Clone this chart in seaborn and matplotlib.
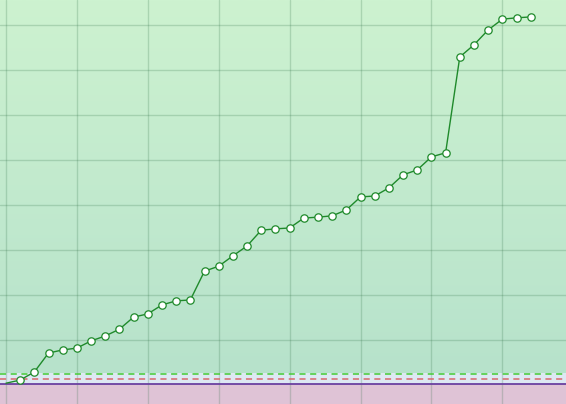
import numpy as np
import pandas as pd
import matplotlib
matplotlib.use("Agg")
import matplotlib.pyplot as plt
import seaborn as sns
from matplotlib.colors import LinearSegmentedColormap

# values (arbitrary units, grid every 10)
steps = list(range(38))
values = [0.4, 1.1, 2.9, 7.1, 7.8, 8.2, 9.8, 10.9, 12.4, 15.1, 15.8, 17.8, 18.7, 18.9,
          25.3, 26.4, 28.7, 30.9, 34.4, 34.7, 34.9, 37.1, 37.3, 37.6, 38.9, 41.8, 42.0,
          43.8, 46.7, 47.8, 50.7, 51.6, 72.9, 75.6, 78.9, 81.3, 81.6, 81.8]
upper_limit = 2.44
lower_limit = 1.33
baseline = 0.33

df = pd.DataFrame({"step": steps, "value": values})

sns.set_theme(style="white")
fig = plt.figure(figsize=(5.66, 4.04), dpi=100)
ax = fig.add_axes([0, 0, 1, 1])

xmin, xmax = -0.42, 39.49
ymin, ymax = -4.22, 85.56
ax.set_xlim(xmin, xmax)
ax.set_ylim(ymin, ymax)

# vertical gradient background
cmap = LinearSegmentedColormap.from_list("bg", ["#b5e1cb", "#cdf2d0"])
grad = np.linspace(0, 1, 256).reshape(-1, 1)
ax.imshow(grad, extent=[xmin, xmax, ymin, ymax], origin="lower", aspect="auto",
          cmap=cmap, zorder=0)

# limit band and bottom zone
ax.axhspan(baseline, upper_limit + 0.25, color="#dde8f3", zorder=1, lw=0)
ax.axhspan(ymin, baseline, color="#dfc3d6", zorder=1, lw=0)

# grid (semi transparent, shows through the bottom zone)
for gx in range(0, 40, 5):
    ax.axvline(gx, color="#2f6f45", alpha=0.22, lw=1.0, zorder=2)
for gy in range(10, 90, 10):
    ax.axhline(gy, color="#2f6f45", alpha=0.22, lw=1.0, zorder=2)

ax.axhline(upper_limit, color="#44cc33", lw=1.1, ls=(0, (4, 3)), zorder=3)
ax.axhline(lower_limit, color="#d9686a", lw=1.1, ls=(0, (4, 3)), zorder=3)
ax.axhline(baseline, color="#6a40a0", lw=1.3, zorder=3)

sns.lineplot(data=df, x="step", y="value", ax=ax, color="#1f8a2b", lw=1.0,
             marker="o", markersize=5.3, markerfacecolor="white",
             markeredgecolor="#1f8a2b", markeredgewidth=0.9,
             markevery=list(range(1, len(steps))), zorder=4)

ax.set_xlabel("")
ax.set_ylabel("")
ax.set_xticks([])
ax.set_yticks([])
for s in ax.spines.values():
    s.set_visible(False)

fig.savefig("out.png", dpi=100)
